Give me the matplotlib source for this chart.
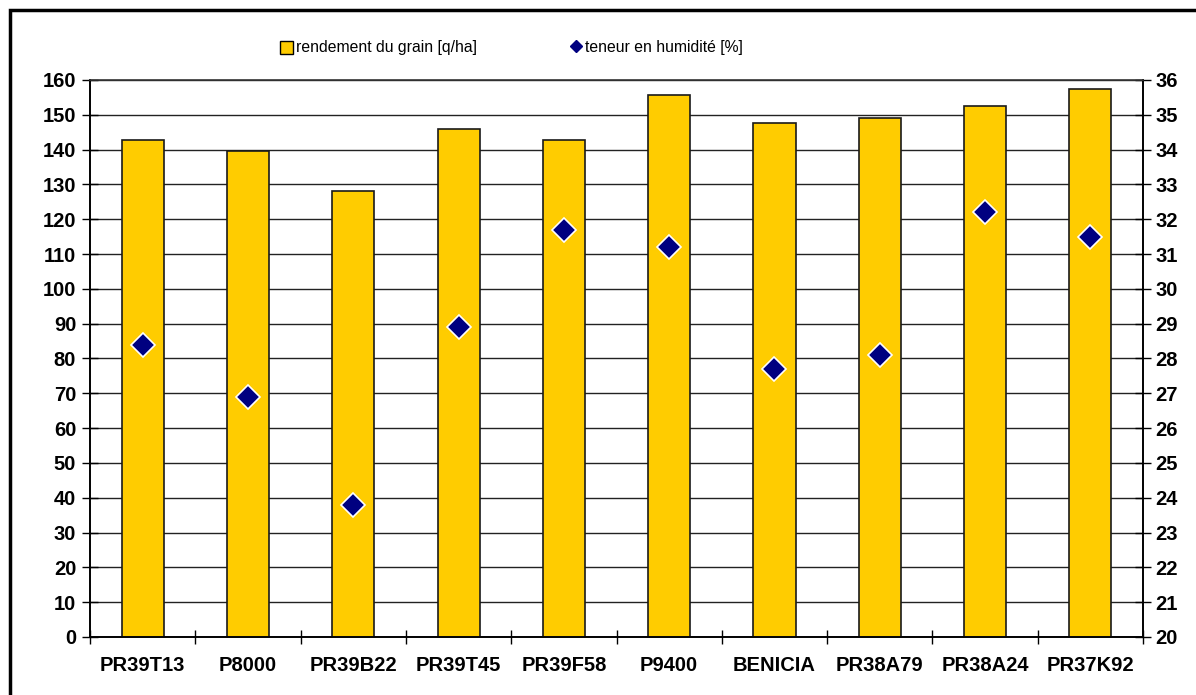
import matplotlib.pyplot as plt
from matplotlib.patches import Rectangle
from matplotlib.lines import Line2D
import numpy as np

plt.rcParams['font.family'] = ['Liberation Sans', 'DejaVu Sans']

hybrides = ['PR39T13', 'P8000', 'PR39B22', 'PR39T45', 'PR39F58',
            'P9400', 'BENICIA', 'PR38A79', 'PR38A24', 'PR37K92']
rendement = [142.7, 139.7, 128.2, 146.0, 142.7, 155.8, 147.6, 149.1, 152.4, 157.4]
humidite = [28.4, 26.9, 23.8, 28.9, 31.7, 31.2, 27.7, 28.1, 32.2, 31.5]

fig = plt.figure(figsize=(11.96, 6.95), dpi=100)
ax1 = fig.add_axes([0.0753, 0.0835, 0.8804, 0.8014])
ax2 = ax1.twinx()

x = np.arange(len(hybrides))
ax1.bar(x, rendement, width=0.4, color='#FFCC00', edgecolor='#1a1a1a',
        linewidth=1.2, zorder=3)
ax2.plot(x, humidite, linestyle='none', marker='D', markersize=12.5,
         markerfacecolor='#000080', markeredgecolor='white',
         markeredgewidth=1.2, zorder=4)

ax1.set_xlim(-0.5, len(hybrides) - 0.5)
ax1.set_ylim(0, 160)
ax1.set_yticks(np.arange(0, 161, 10))
ax2.set_ylim(20, 36)
ax2.set_yticks(np.arange(20, 37, 1))

ax1.yaxis.grid(True, color='#222222', linewidth=1)
ax1.set_axisbelow(True)

ax1.set_xticks(x)
ax1.set_xticklabels(hybrides)
ax1.set_xticks(np.arange(-0.5, len(hybrides)), minor=True)
ax1.tick_params(axis='x', which='major', length=0, pad=14)
ax1.tick_params(axis='x', which='minor', length=10, direction='inout', width=1)
ax1.tick_params(axis='y', length=12, direction='inout', width=1, pad=4)
ax2.tick_params(axis='y', length=12, direction='inout', width=1, pad=3)

for lab in ax1.get_xticklabels() + ax1.get_yticklabels() + ax2.get_yticklabels():
    lab.set_fontsize(14.5)
    lab.set_fontweight('bold')

ax1.spines['top'].set_visible(False)
for ax in (ax1, ax2):
    for s in ax.spines.values():
        s.set_linewidth(1.2)
ax2.spines['top'].set_color('#333333')

# legend
handles = [
    Rectangle((0, 0), 1, 1, facecolor='#FFCC00', edgecolor='black', linewidth=1),
    Line2D([], [], linestyle='none', marker='D', markersize=6,
           markerfacecolor='#000080', markeredgecolor='#000080'),
]
fig.legend(handles, ['rendement du grain [q/ha]', 'teneur en humidité [%]'],
           loc='center', bbox_to_anchor=(0.428, 0.931), ncol=2, frameon=False,
           fontsize=11.3, columnspacing=5.9, handlelength=0.8,
           handletextpad=0.2, handleheight=0.9)

# cadre du graphique
fig.patches.append(Rectangle((10 / 1196, -0.1), 1.2, 1 - 10 / 695 + 0.1,
                             transform=fig.transFigure, fill=False,
                             edgecolor='black', linewidth=2.5))

fig.savefig('out.png', dpi=100)
